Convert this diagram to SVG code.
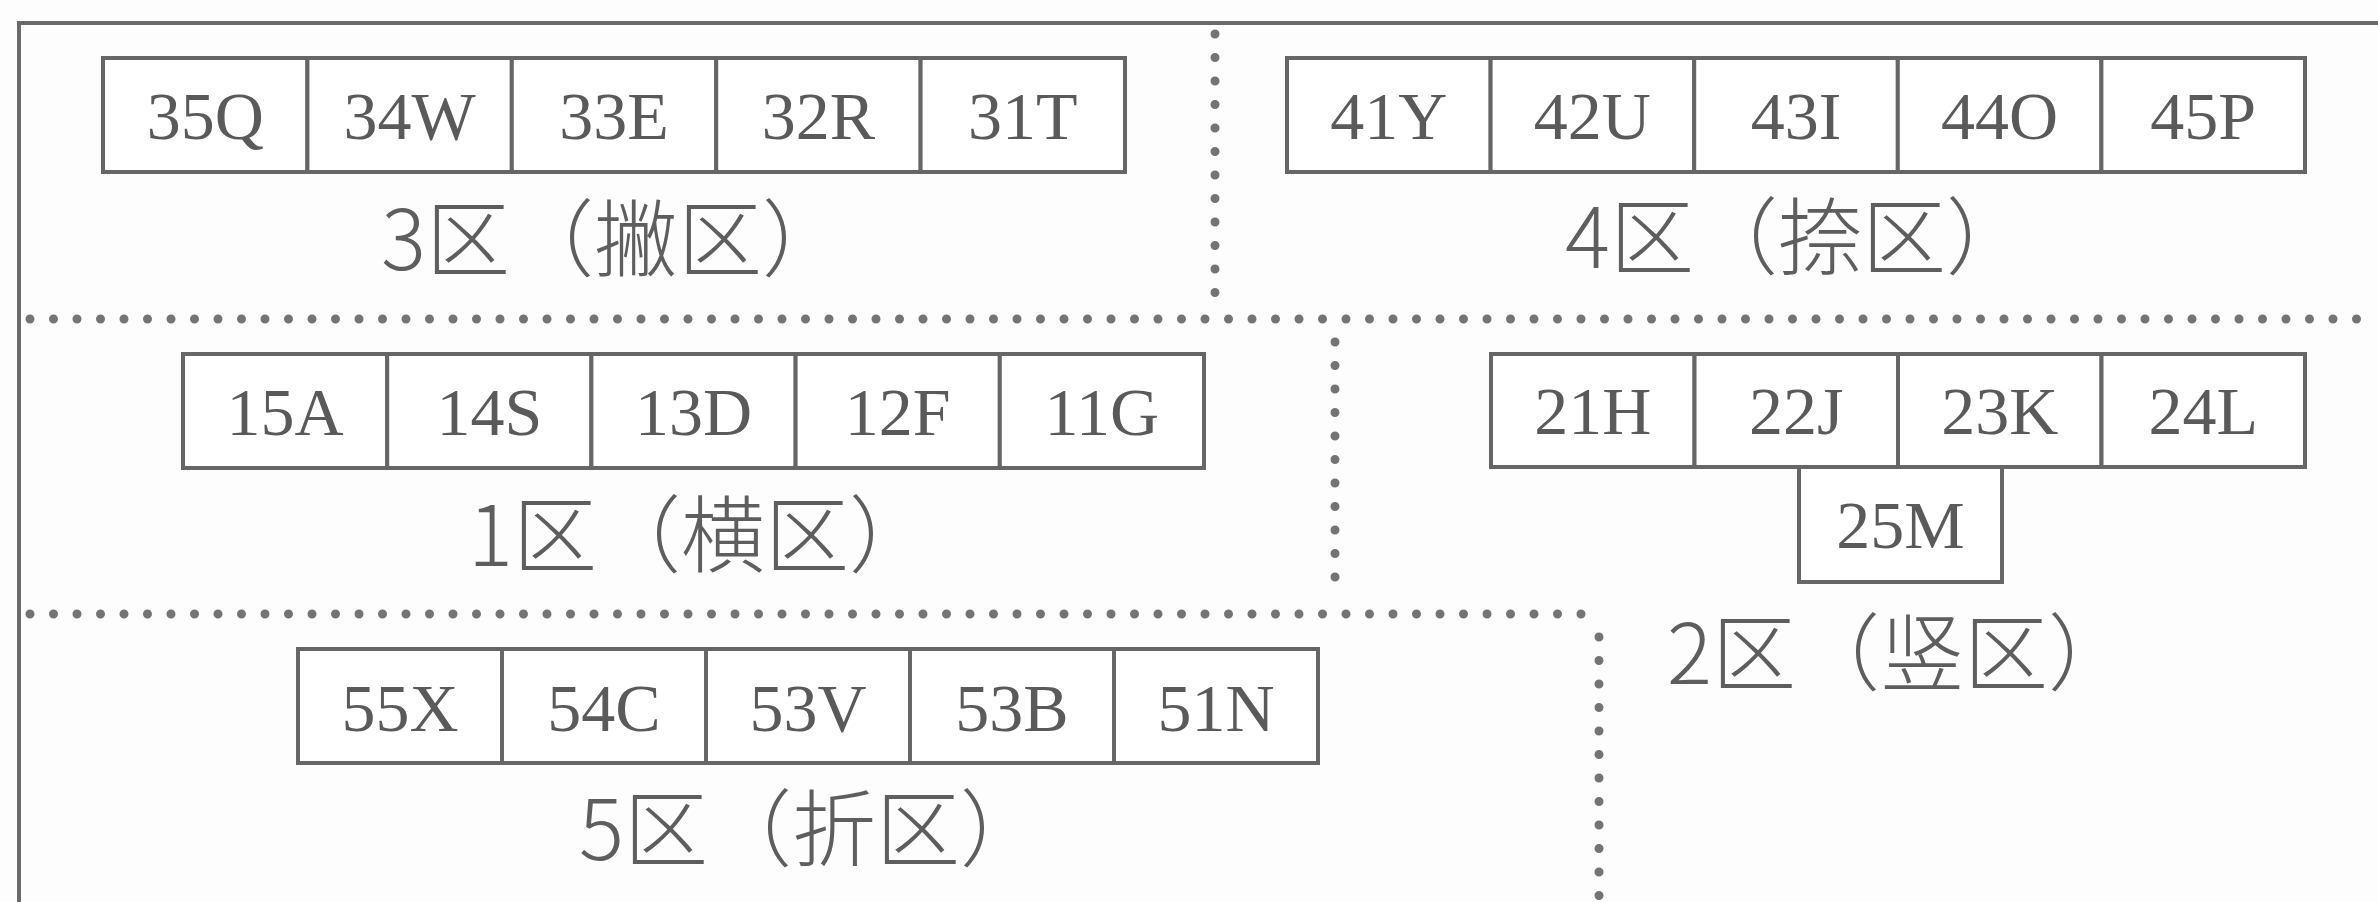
<svg xmlns="http://www.w3.org/2000/svg" width="2378" height="902" viewBox="0 0 2378 902">
<style>
.bg{fill:#fdfdfd}
.frame{fill:none;stroke:#6a6a6a;stroke-width:4}
.dot{fill:none;stroke:#747474;stroke-width:9;stroke-linecap:round;stroke-dasharray:0 23.5}
.cell rect{fill:#ffffff;stroke:#666666;stroke-width:4}
.cell text{font-family:"Liberation Serif","Times New Roman",serif;font-size:68px;fill:#5a5a5a;text-anchor:middle}
.zl{font-family:"Noto Sans CJK SC","Noto Sans",sans-serif;font-size:84px;fill:#5e5e5e;font-weight:300}
</style>
<rect class="bg" x="0" y="0" width="2378" height="902"/>
<g id="frame">
<path class="frame" d="M19 902 V23 H2378"/>
</g>
<g id="connectors">
<line class="dot" x1="1215" y1="34" x2="1215" y2="300"/>
<line class="dot" x1="30" y1="319" x2="2378" y2="319"/>
<line class="dot" x1="1335" y1="342" x2="1335" y2="600"/>
<line class="dot" x1="30" y1="614" x2="1599" y2="614"/>
<line class="dot" x1="1599" y1="637" x2="1599" y2="902"/>
</g>
<g id="zone3">
<g id="n35Q" class="cell"><rect x="103" y="58" width="204.4" height="114"/><text x="205.2" y="139">35Q</text></g>
<g id="n34W" class="cell"><rect x="307.4" y="58" width="204.4" height="114"/><text x="409.6" y="139">34W</text></g>
<g id="n33E" class="cell"><rect x="511.8" y="58" width="204.4" height="114"/><text x="614" y="139">33E</text></g>
<g id="n32R" class="cell"><rect x="716.2" y="58" width="204.4" height="114"/><text x="818.4" y="139">32R</text></g>
<g id="n31T" class="cell"><rect x="920.6" y="58" width="204.4" height="114"/><text x="1022.8" y="139">31T</text></g>
<text id="label3" class="zl" x="381" y="270">3区（撇区）</text>
</g>
<g id="zone4">
<g id="n41Y" class="cell"><rect x="1287" y="58" width="203.6" height="114"/><text x="1388.8" y="139">41Y</text></g>
<g id="n42U" class="cell"><rect x="1490.6" y="58" width="203.6" height="114"/><text x="1592.4" y="139">42U</text></g>
<g id="n43I" class="cell"><rect x="1694.2" y="58" width="203.6" height="114"/><text x="1796" y="139">43I</text></g>
<g id="n44O" class="cell"><rect x="1897.8" y="58" width="203.6" height="114"/><text x="1999.6" y="139">44O</text></g>
<g id="n45P" class="cell"><rect x="2101.4" y="58" width="203.6" height="114"/><text x="2203.2" y="139">45P</text></g>
<text id="label4" class="zl" x="1565" y="268">4区（捺区）</text>
</g>
<g id="zone1">
<g id="n15A" class="cell"><rect x="183" y="354" width="204.2" height="114"/><text x="285.1" y="435">15A</text></g>
<g id="n14S" class="cell"><rect x="387.2" y="354" width="204.2" height="114"/><text x="489.3" y="435">14S</text></g>
<g id="n13D" class="cell"><rect x="591.4" y="354" width="204.2" height="114"/><text x="693.5" y="435">13D</text></g>
<g id="n12F" class="cell"><rect x="795.6" y="354" width="204.2" height="114"/><text x="897.7" y="435">12F</text></g>
<g id="n11G" class="cell"><rect x="999.8" y="354" width="204.2" height="114"/><text x="1101.9" y="435">11G</text></g>
<text id="label1" class="zl" x="468" y="566">1区（横区）</text>
</g>
<g id="zone2">
<g id="n21H" class="cell"><rect x="1491" y="354" width="203.5" height="113"/><text x="1592.8" y="434">21H</text></g>
<g id="n22J" class="cell"><rect x="1694.5" y="354" width="203.5" height="113"/><text x="1796.3" y="434">22J</text></g>
<g id="n23K" class="cell"><rect x="1898" y="354" width="203.5" height="113"/><text x="1999.8" y="434">23K</text></g>
<g id="n24L" class="cell"><rect x="2101.5" y="354" width="203.5" height="113"/><text x="2203.3" y="434">24L</text></g>
<g id="n25M" class="cell"><rect x="1799" y="467" width="203" height="115"/><text x="1900.5" y="548">25M</text></g>
<text id="label2" class="zl" x="1667" y="684">2区（竖区）</text>
</g>
<g id="zone5">
<g id="n55X" class="cell"><rect x="298" y="649" width="204" height="114"/><text x="400" y="731">55X</text></g>
<g id="n54C" class="cell"><rect x="502" y="649" width="204" height="114"/><text x="604" y="731">54C</text></g>
<g id="n53V" class="cell"><rect x="706" y="649" width="204" height="114"/><text x="808" y="731">53V</text></g>
<g id="n53B" class="cell"><rect x="910" y="649" width="204" height="114"/><text x="1012" y="731">53B</text></g>
<g id="n51N" class="cell"><rect x="1114" y="649" width="204" height="114"/><text x="1216" y="731">51N</text></g>
<text id="label5" class="zl" x="579" y="860">5区（折区）</text>
</g>
</svg>
